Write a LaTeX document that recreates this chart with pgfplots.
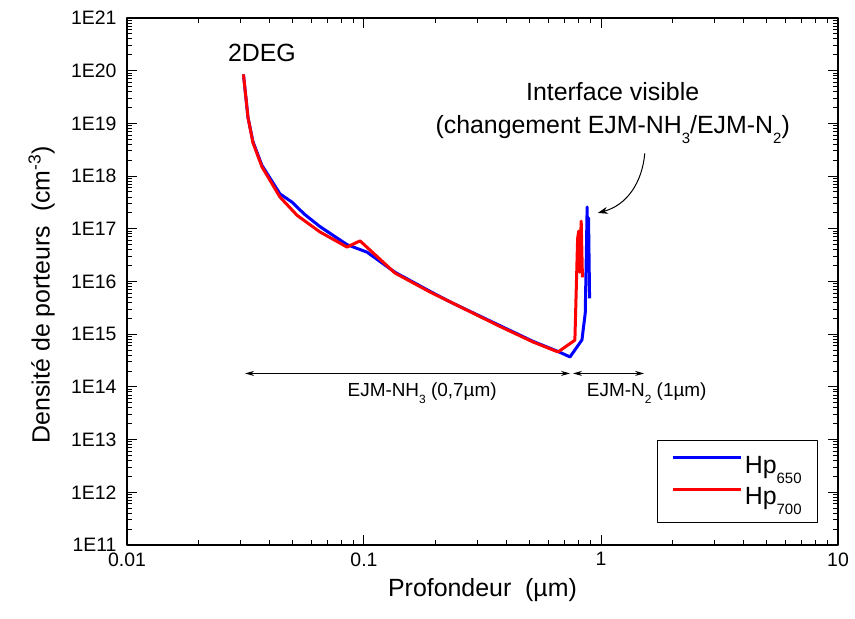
\documentclass[border=0pt]{standalone}
\usepackage{fontspec}
\setmainfont{Liberation Sans}
\usepackage{pgfplots}
\pgfplotsset{compat=1.18}
\usetikzlibrary{arrows.meta}
\newcommand\subL[1]{\raisebox{-10bp}{\fontsize{15}{15}\selectfont #1}}
\newcommand\subS[1]{\raisebox{-7bp}{\fontsize{12}{12}\selectfont #1}}
\begin{document}
\begin{tikzpicture}[x=1bp,y=1bp]
\path[use as bounding box] (-127,-74) rectangle (728,545);
\begin{loglogaxis}[
  at={(0,0)}, anchor=south west,
  scale only axis, width=711bp, height=527bp,
  xmin=0.01, xmax=10, ymin=1e11, ymax=1e21,
  xtick={0.01,0.1,1,10}, xticklabels={0.01,0.1,1,10},
  ytick={1e11,1e12,1e13,1e14,1e15,1e16,1e17,1e18,1e19,1e20,1e21},
  yticklabels={1E11,1E12,1E13,1E14,1E15,1E16,1E17,1E18,1E19,1E20,1E21},
  axis line style={line width=1.6bp},
  every tick/.style={black, line width=1bp},
  major tick length=10bp, minor tick length=5bp,
  tick label style={font=\fontsize{19.5}{19.5}\selectfont},
  yticklabel style={xshift=-7bp},
  xticklabel style={yshift=-4bp},
  xlabel={Profondeur~~(µm)},
  ylabel={Densité de porteurs~~(cm\textsuperscript{-3})},
  label style={font=\fontsize{25}{25}\selectfont},
  xlabel style={at={(axis description cs:0.5,-0.085)}, anchor=center},
  ylabel style={at={(axis description cs:-0.12,0.475)}, anchor=center},
  legend style={at={(rel axis cs:0.972,0.042)}, anchor=south east, draw=black, line width=1bp,
    font=\fontsize{25}{25}\selectfont, inner xsep=14bp, inner ysep=14bp, row sep=9bp,
    cells={anchor=west}},
  legend image code/.code={\draw[#1] (0bp,8bp) -- (68bp,8bp);},
  line join=round,
]
\addplot[blue, line width=3bp] coordinates {
(0.0310,8.5e19) (0.0324,1.3e19) (0.0340,4.5e18) (0.0371,1.6e18) (0.0442,4.6e17)
(0.0497,3.2e17) (0.0560,1.9e17) (0.0652,1.1e17) (0.0848,5.0e16) (0.103,3.6e16)
(0.135,1.5e16) (0.190,6.5e15) (0.231,4.1e15) (0.375,1.45e15) (0.517,7.3e14)
(0.659,4.7e14) (0.740,3.7e14) (0.831,7.8e14) (0.858,2.5e15) (0.868,4e16)
(0.874,2.6e17) (0.880,2e16) (0.886,1.6e17) (0.895,4.8e15)
};
\addlegendentry{Hp\subL{650}}
\addplot[red, line width=3bp] coordinates {
(0.0310,8.5e19) (0.0324,1.3e19) (0.0340,4.3e18) (0.0371,1.5e18) (0.0442,4.0e17)
(0.0522,1.8e17) (0.0652,8.7e16) (0.0848,4.5e16) (0.0962,5.9e16) (0.135,1.45e16)
(0.190,6.3e15) (0.231,4.1e15) (0.375,1.4e15) (0.517,7.1e14) (0.659,4.6e14)
(0.776,7.7e14) (0.797,6.5e16) (0.805,9e16) (0.812,1.5e16) (0.825,1.4e17) (0.835,1.2e16)
};
\addlegendentry{Hp\subL{700}}
\node[font=\fontsize{25}{25}\selectfont] at (axis cs:0.0371,2.2e20) {2DEG};
\node[align=center, font=\fontsize{25}{33}\selectfont] at (axis cs:1.12,1.6e19)
  {Interface visible\\(changement EJM-NH\subL{3}/EJM-N\subL{2})};
\draw[-{Stealth[length=10bp,width=7bp]}, line width=1bp]
  (axis cs:1.53,2.7e18) to[out=-95,in=15] (axis cs:0.97,2e17);
\draw[{Stealth[length=9bp,width=5bp]}-{Stealth[length=9bp,width=5bp]}, line width=0.8bp]
  (axis cs:0.0315,1.8e14) -- (axis cs:0.74,1.8e14);
\draw[{Stealth[length=9bp,width=5bp]}-{Stealth[length=9bp,width=5bp]}, line width=0.8bp]
  (axis cs:0.762,1.8e14) -- (axis cs:1.52,1.8e14);
\node[font=\fontsize{19}{19}\selectfont] at (axis cs:0.176,7.6e13) {EJM-NH\subS{3} (0,7µm)};
\node[font=\fontsize{19}{19}\selectfont] at (axis cs:1.56,7.6e13) {EJM-N\subS{2} (1µm)};
\end{loglogaxis}
\end{tikzpicture}
\end{document}
